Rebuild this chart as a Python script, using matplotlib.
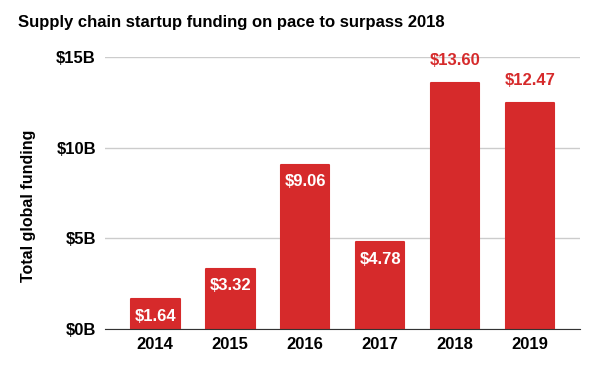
import matplotlib

matplotlib.use("Agg")

import matplotlib.pyplot as plt

years = ["2014", "2015", "2016", "2017", "2018", "2019"]
funding = [1.64, 3.32, 9.06, 4.78, 13.60, 12.47]
label_outside = [False, False, False, False, True, True]
y_ticks = [0, 5, 10, 15]
y_tick_labels = ["$0B", "$5B", "$10B", "$15B"]

RED = "#d62a2b"

plt.rcParams.update(
    {
        "font.family": ["Liberation Sans", "DejaVu Sans"],
        "font.weight": "bold",
    }
)

fig = plt.figure(figsize=(6, 3.71), dpi=100)
ax = fig.add_axes([0.175, 0.113, 0.792, 0.733])

x = range(len(years))
bars = ax.bar(x, funding, width=0.65, color=RED, edgecolor=RED,
              linewidth=1.5, joinstyle="round", zorder=3)

for bar, val, outside in zip(bars, funding, label_outside):
    cx = bar.get_x() + bar.get_width() / 2
    if outside:
        ax.annotate(f"${val:.2f}", (cx, val), xytext=(0, 16), textcoords="offset points",
                    ha="center", va="center", color=RED, fontsize=12, fontweight="bold",
                    annotation_clip=False)
    else:
        ax.annotate(f"${val:.2f}", (cx, val), xytext=(0, -12), textcoords="offset points",
                    ha="center", va="center", color="white", fontsize=12, fontweight="bold",
                    zorder=4)

ax.set_xlim(-0.67, 5.67)
ax.set_ylim(0, 15)
ax.set_xticks(list(x))
ax.set_xticklabels(years, fontsize=12, fontweight="bold")
ax.set_yticks(y_ticks)
ax.set_yticklabels(y_tick_labels, fontsize=12, fontweight="bold")
ax.tick_params(length=0)
ax.tick_params(axis="y", pad=6.5)
ax.tick_params(axis="x", pad=6)
ax.grid(axis="y", color="#cccccc", linewidth=1, zorder=0)
for side in ["top", "right", "left"]:
    ax.spines[side].set_visible(False)
ax.spines["bottom"].set_color("#333333")
ax.spines["bottom"].set_zorder(5)

fig.text(29 / 600, 1 - 206 / 371, "Total global funding", rotation=90,
         fontsize=11.5, fontweight="bold", ha="center", va="center")
fig.text(0.03, 0.94, "Supply chain startup funding on pace to surpass 2018",
         fontsize=12, fontweight="bold", ha="left", va="center")

fig.savefig("out.png", dpi=100)
